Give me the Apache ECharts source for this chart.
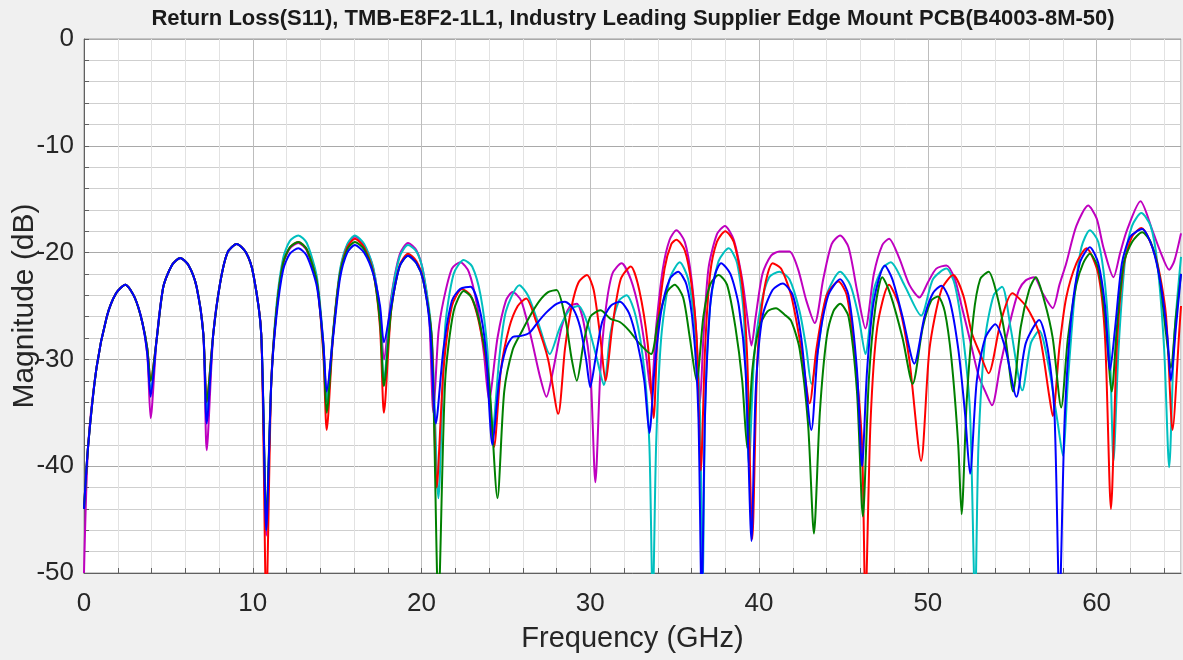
<!DOCTYPE html>
<html>
<head>
<meta charset="utf-8">
<script src="https://cdn.jsdelivr.net/npm/echarts@6/dist/echarts.min.js"></script>
<style>
html,body{margin:0;padding:0;background:#f0f0f0;}
#chart{width:1183px;height:660px;}
</style>
</head>
<body>
<div id="chart"></div>
<script>
const titleText = 'Return Loss(S11), TMB-E8F2-1L1, Industry Leading Supplier Edge Mount PCB(B4003-8M-50)';
const xAxisName = 'Frequency (GHz)';
const yAxisName = 'Magnitude (dB)';
const xTickLabels = [0, 10, 20, 30, 40, 50, 60];
const yTickLabels = [-50, -40, -30, -20, -10, 0];

const magentaData = [[0,-50],[0.25,-38],[0.75,-30.7],[1.35,-26],[1.9,-23.8],[2.45,-23],[3.0,-24.2],[3.45,-26.5],[3.75,-29.5],[3.95,-35.5],[4.3,-28.2],[4.7,-23.2],[5.2,-21.2],[5.7,-20.5],[6.2,-21.2],[6.67,-23.2],[7.07,-27.6],[7.27,-38.5],[7.66,-27.6],[8.06,-22.9],[8.5,-20],[9.05,-19.2],[9.6,-20],[10.03,-22],[10.5,-27.6],[10.8,-46.5],[11.1,-32],[11.4,-25.5],[11.8,-21],[12.2,-19.6],[12.7,-19.1],[13.2,-19.8],[13.8,-22.8],[14.18,-28.5],[14.38,-33.5],[14.77,-27.4],[15.17,-21.8],[15.6,-19.3],[16.05,-18.5],[16.6,-19.3],[17.14,-21.5],[17.54,-25.5],[17.77,-30],[18.2,-24.2],[18.7,-20.2],[19.2,-19.1],[19.7,-19.8],[20.1,-21.8],[20.45,-26],[20.7,-35],[21.0,-27.5],[21.3,-24.5],[21.8,-21.5],[22.3,-20.9],[22.8,-21.8],[23.3,-25],[23.7,-29.5],[24.0,-33.8],[24.5,-28],[25.0,-24.5],[25.4,-23.7],[25.9,-24.5],[26.5,-28],[27.0,-31.5],[27.4,-33.5],[27.8,-31],[28.3,-27],[28.8,-25],[29.2,-24.8],[29.6,-26.5],[30.0,-31],[30.3,-41.5],[30.6,-31],[30.9,-25.5],[31.3,-22],[31.85,-21],[32.4,-22.5],[32.9,-25.5],[33.3,-29.5],[33.6,-33.2],[33.9,-27],[34.3,-21.5],[34.7,-18.8],[35.1,-17.9],[35.6,-19],[36.0,-22.5],[36.3,-28],[36.5,-34.1],[36.7,-28],[37.0,-21.5],[37.5,-18.3],[37.97,-17.5],[38.5,-18.8],[39.0,-22.5],[39.3,-26],[39.55,-28.7],[39.8,-26],[40.2,-22],[40.7,-20.3],[41.2,-19.9],[41.8,-19.9],[42.3,-21.5],[42.8,-24.5],[43.3,-26.6],[43.8,-22.5],[44.3,-19.2],[44.8,-18.4],[45.3,-19.5],[45.8,-23.5],[46.3,-27.1],[46.8,-22],[47.3,-19.3],[47.7,-18.7],[48.3,-20.5],[48.9,-23],[49.5,-24.2],[50.0,-22.8],[50.5,-21.5],[51.1,-21.2],[51.6,-22.5],[52.0,-25],[52.5,-28.2],[53.0,-31.5],[53.4,-33],[53.8,-34.3],[54.3,-30.5],[54.9,-26.3],[55.4,-23.5],[55.8,-22.6],[56.3,-22.3],[56.8,-23.8],[57.4,-25.2],[57.8,-23],[58.2,-21],[58.8,-17.5],[59.5,-15.6],[60.0,-16.8],[60.4,-19.5],[61.0,-22.3],[61.4,-20],[61.8,-17.9],[62.6,-15.2],[63.3,-17.9],[63.8,-20],[64.3,-21.6],[64.6,-20.8],[65,-18.2]];

const cyanData = [[0,-44],[0.25,-38],[0.75,-30.7],[1.35,-26],[1.9,-23.8],[2.45,-23],[3.0,-24.2],[3.45,-26.5],[3.75,-29],[3.95,-33],[4.3,-28.2],[4.7,-23.2],[5.2,-21.2],[5.7,-20.5],[6.2,-21.2],[6.67,-23.2],[7.07,-27.6],[7.27,-35],[7.66,-27.6],[8.06,-22.9],[8.5,-20],[9.05,-19.2],[9.6,-20],[10.03,-22],[10.5,-27.6],[10.8,-46],[11.1,-32],[11.4,-25],[11.8,-20.5],[12.2,-18.9],[12.7,-18.4],[13.2,-19.1],[13.8,-22.3],[14.18,-28.5],[14.38,-34],[14.77,-27.2],[15.17,-21.6],[15.6,-19.2],[16.05,-18.4],[16.6,-19.2],[17.14,-21.4],[17.54,-26],[17.77,-32],[18.2,-24.5],[18.7,-20.4],[19.2,-19.3],[19.7,-19.9],[20.1,-21.8],[20.6,-27.6],[21.0,-43],[21.4,-27],[21.9,-22],[22.5,-20.7],[23.0,-21.3],[23.5,-24],[23.9,-29],[24.2,-37],[24.6,-30],[25.0,-25.5],[25.8,-23.05],[26.3,-24],[26.9,-26.5],[27.6,-29.5],[28.2,-27],[28.8,-25.3],[29.3,-25],[29.8,-26.5],[30.4,-30],[30.8,-32.4],[31.2,-27.5],[31.7,-24.5],[32.15,-24],[32.7,-26],[33.2,-31],[33.5,-38],[33.7,-53],[33.9,-38],[34.2,-28],[34.7,-22.5],[35.3,-20.9],[35.8,-22.5],[36.2,-27],[36.5,-35],[36.65,-53],[36.8,-35],[37.1,-25],[37.6,-20.8],[38.2,-19.6],[38.7,-21],[39.1,-26],[39.4,-39.9],[39.7,-30],[40.1,-25],[40.6,-22.3],[41.2,-21.8],[41.8,-22.5],[42.4,-25.5],[42.8,-29],[43.1,-32.3],[43.5,-29],[44.0,-24],[44.8,-21.8],[45.4,-23],[45.9,-26],[46.3,-29.5],[46.8,-23.5],[47.3,-21.5],[47.8,-20.9],[48.6,-23],[49.6,-25.9],[50.3,-22.5],[51.1,-21.5],[51.6,-23],[52.1,-28],[52.5,-35],[52.8,-53],[53.0,-38],[53.4,-28],[53.9,-24],[54.4,-23.2],[54.9,-27],[55.6,-32.9],[56.1,-28.5],[56.6,-27.3],[57.2,-31],[57.7,-36],[58.0,-39],[58.3,-32],[58.7,-24],[59.1,-19.5],[59.6,-17.9],[60.1,-19],[60.5,-23],[60.8,-30],[61.0,-39.5],[61.3,-29],[61.7,-20.5],[62.1,-17.5],[62.65,-16.3],[63.2,-17.5],[63.6,-21],[64.0,-29],[64.3,-40.1],[64.6,-28],[65,-20.4]];

const redData = [[0,-44],[0.25,-38],[0.75,-30.7],[1.35,-26],[1.9,-23.8],[2.45,-23],[3.0,-24.2],[3.45,-26.5],[3.75,-29],[3.95,-32],[4.3,-28.2],[4.7,-23.2],[5.2,-21.2],[5.7,-20.5],[6.2,-21.2],[6.67,-23.2],[7.07,-27.6],[7.27,-34],[7.66,-27.6],[8.06,-22.9],[8.5,-20],[9.05,-19.2],[9.6,-20],[10.03,-22],[10.5,-27.6],[10.8,-53],[11.1,-32],[11.4,-25.5],[11.8,-21],[12.2,-19.5],[12.7,-19],[13.2,-19.7],[13.8,-22.8],[14.18,-29.5],[14.38,-36.6],[14.77,-27.5],[15.17,-22],[15.6,-19.5],[16.05,-18.7],[16.6,-19.5],[17.14,-21.8],[17.54,-27],[17.77,-35],[18.2,-25.4],[18.7,-21.2],[19.2,-20.1],[19.7,-20.8],[20.1,-22.5],[20.6,-28],[20.9,-42],[21.3,-31],[21.8,-25],[22.4,-23.4],[22.9,-24],[23.4,-26.5],[23.9,-31],[24.3,-38.2],[24.7,-31],[25.2,-27],[25.7,-25],[26.2,-24.3],[26.8,-26.5],[27.5,-30],[28.1,-35.1],[28.5,-29],[28.9,-25],[29.3,-22.8],[29.8,-22.1],[30.2,-23.5],[30.6,-28],[30.9,-32],[31.3,-27],[31.8,-22.5],[32.4,-21.3],[32.9,-23.5],[33.4,-28.5],[33.75,-35.5],[34.0,-27],[34.4,-21.5],[34.8,-19.2],[35.1,-18.8],[35.6,-19.8],[36.0,-23],[36.3,-28],[36.55,-40.4],[36.8,-29],[37.1,-22],[37.5,-19],[38.0,-18],[38.5,-19],[39.0,-23],[39.3,-30],[39.6,-46.8],[39.9,-30],[40.3,-23.5],[40.8,-21],[41.3,-21.5],[41.9,-24],[42.5,-29],[43.0,-34.1],[43.4,-29],[44.0,-24],[44.7,-22.7],[45.2,-24],[45.7,-30],[46.1,-38],[46.3,-53],[46.6,-36],[47.0,-27],[47.7,-23],[48.3,-25],[48.9,-30],[49.6,-39.5],[50.1,-29],[50.8,-23.5],[51.5,-22.1],[52.1,-24],[52.6,-27.5],[53.1,-29.5],[53.6,-31.3],[54.3,-26.6],[55.0,-23.8],[55.85,-25.1],[56.6,-27.6],[57.2,-33.5],[57.4,-35.3],[57.8,-28.8],[58.2,-24.2],[58.8,-21],[59.4,-19.6],[60.1,-22],[60.5,-28],[60.85,-44],[61.2,-28.8],[61.6,-21.3],[62.1,-18.5],[62.65,-17.7],[63.5,-20.4],[64.1,-25.7],[64.5,-36.6],[64.9,-27.3],[65,-25]];

const greenData = [[0,-44],[0.25,-38],[0.75,-30.7],[1.35,-26],[1.9,-23.8],[2.45,-23],[3.0,-24.2],[3.45,-26.5],[3.75,-29],[3.95,-32],[4.3,-28.2],[4.7,-23.2],[5.2,-21.2],[5.7,-20.5],[6.2,-21.2],[6.67,-23.2],[7.07,-27.6],[7.27,-34],[7.66,-27.6],[8.06,-22.9],[8.5,-20],[9.05,-19.2],[9.6,-20],[10.03,-22],[10.5,-27.6],[10.8,-45],[11.1,-32],[11.4,-25.5],[11.8,-21],[12.2,-19.5],[12.7,-19],[13.2,-19.7],[13.8,-22.8],[14.18,-29],[14.38,-35],[14.77,-27.5],[15.17,-22],[15.6,-19.7],[16.05,-19],[16.6,-19.7],[17.14,-21.9],[17.54,-26.5],[17.77,-32.5],[18.2,-25.4],[18.7,-21.3],[19.2,-20.3],[19.7,-21],[20.1,-22.6],[20.6,-28],[21.0,-53],[21.4,-32],[21.9,-25.5],[22.5,-23.6],[23.0,-24.3],[23.5,-27],[24.0,-32],[24.5,-43],[24.9,-33],[25.4,-29.1],[25.9,-27.5],[26.4,-26],[27.0,-24.5],[27.5,-23.7],[28.0,-23.5],[28.5,-26],[28.9,-30],[29.2,-32],[29.6,-28.5],[30.0,-26],[30.6,-25.4],[31.2,-26.2],[31.75,-26.5],[32.3,-27.3],[32.9,-28.5],[33.6,-29.5],[34.0,-26.5],[34.5,-23.8],[35.0,-23],[35.5,-24.2],[35.9,-28],[36.3,-32],[36.7,-26],[37.1,-23],[37.6,-22.1],[38.1,-23],[38.6,-27],[39.0,-32],[39.3,-38.3],[39.6,-31],[40.0,-27],[40.5,-25.5],[41.0,-25.2],[41.5,-25.8],[41.9,-26.4],[42.4,-29],[42.9,-36],[43.25,-46.3],[43.6,-35],[44.0,-28],[44.4,-25.5],[44.8,-24.8],[45.3,-26],[45.8,-33],[46.15,-44.7],[46.5,-32],[46.9,-25],[47.3,-22.3],[47.8,-24],[48.5,-28],[49.1,-32.3],[49.7,-27],[50.2,-24.5],[50.6,-24.1],[51.0,-25.5],[51.4,-30],[51.8,-38],[52.0,-44.5],[52.3,-34],[52.7,-26],[53.1,-22.5],[53.6,-21.8],[54.1,-24],[54.6,-28],[55.05,-33],[55.5,-27],[56.0,-23.5],[56.4,-22.3],[56.9,-24.5],[57.4,-28],[57.9,-34.5],[58.3,-28],[58.8,-23],[59.2,-21],[59.6,-20.1],[60.1,-21.5],[60.5,-26],[60.9,-33],[61.2,-27],[61.6,-21],[62.1,-19],[62.7,-18.1],[63.2,-19],[63.7,-22],[64.1,-27.4],[64.4,-30.8],[64.7,-26],[65,-22]];

const blueData = [[0,-44],[0.25,-38],[0.75,-30.7],[1.35,-26],[1.9,-23.8],[2.45,-23],[3.0,-24.2],[3.45,-26.5],[3.75,-29.5],[3.95,-33.5],[4.3,-28.2],[4.7,-23.2],[5.2,-21.2],[5.7,-20.5],[6.2,-21.2],[6.67,-23.2],[7.07,-27.6],[7.27,-36],[7.66,-27.6],[8.06,-22.9],[8.5,-20],[9.05,-19.2],[9.6,-20],[10.03,-22],[10.5,-27.6],[10.8,-46],[11.1,-32],[11.4,-26],[11.8,-21.6],[12.2,-20.1],[12.7,-19.6],[13.2,-20.3],[13.8,-23.2],[14.18,-28.5],[14.38,-33],[14.77,-27.8],[15.17,-22.4],[15.6,-20],[16.05,-19.3],[16.6,-20],[17.14,-22],[17.54,-25],[17.77,-28.4],[18.2,-25],[18.7,-21.3],[19.2,-20.3],[19.7,-21],[20.1,-22.6],[20.5,-27],[20.85,-36],[21.3,-29],[21.8,-24.5],[22.3,-23.4],[22.9,-23.2],[23.4,-25],[23.8,-29],[24.2,-38],[24.6,-32],[25.0,-29],[25.4,-27.9],[25.9,-27.8],[26.4,-27.5],[26.9,-26.5],[27.4,-25.6],[28.0,-24.8],[28.5,-24.6],[29.0,-25.3],[29.4,-27],[29.75,-30],[30.0,-32.6],[30.3,-30],[30.7,-26.5],[31.2,-25],[31.75,-24.6],[32.3,-25.7],[32.8,-28.5],[33.2,-32],[33.5,-36.9],[33.8,-31],[34.2,-25.5],[34.7,-22.5],[35.2,-21.8],[35.7,-23],[36.1,-27],[36.4,-35],[36.6,-53],[36.8,-35],[37.1,-25],[37.4,-22],[37.75,-21],[38.3,-22],[38.8,-25],[39.2,-31],[39.55,-47],[39.8,-33],[40.2,-26],[40.8,-23.5],[41.4,-22.9],[42.0,-24],[42.5,-28],[43.1,-36.6],[43.5,-29],[44.1,-24],[44.8,-22.5],[45.3,-24],[45.8,-31],[46.1,-40],[46.4,-31],[46.8,-24.5],[47.45,-21.2],[47.9,-22.5],[48.5,-26],[49.2,-30.4],[49.8,-26],[50.3,-23.8],[50.8,-23.1],[51.3,-24.5],[51.8,-29],[52.2,-35],[52.5,-40.7],[52.9,-32],[53.4,-28],[54.0,-26.7],[54.6,-29],[55.25,-33.5],[55.8,-28.5],[56.6,-26.3],[57.1,-29],[57.5,-35],[57.8,-53],[58.1,-36],[58.5,-26],[59.0,-21],[59.6,-19.5],[60.1,-21],[60.5,-25],[60.8,-31],[61.1,-27],[61.5,-21],[62.0,-18.5],[62.7,-17.8],[63.3,-19.5],[63.8,-23],[64.2,-28],[64.4,-32],[64.7,-27],[65,-22]];

const traces = [
  {name: 'Trace 1', color: '#bf00bf', data: magentaData},
  {name: 'Trace 2', color: '#00bfbf', data: cyanData},
  {name: 'Trace 3', color: '#ff0000', data: redData},
  {name: 'Trace 4', color: '#008000', data: greenData},
  {name: 'Trace 5', color: '#0000ff', data: blueData}
];

const sans = "'Liberation Sans', Arial, sans-serif";

const chart = echarts.init(document.getElementById('chart'), null, {renderer: 'canvas'});
const majorX = '#bdbdbd', minorX = '#e2e2e2';
const majorY = '#a9a9a9', minorY = '#cfcfcf';

chart.setOption({
  backgroundColor: '#f0f0f0',
  animation: false,
  graphic: [{
    type: 'text', x: 633, y: 19,
    style: {text: titleText, fill: '#1a1a1a', font: "bold 22px " + sans, textAlign: 'center', textVerticalAlign: 'middle'}
  }],
  grid: {left: 84, top: 39, right: 2, bottom: 87, containLabel: false, outerBoundsMode: 'none',
    show: true, backgroundColor: '#ffffff', borderColor: '#9a9a9a', borderWidth: 1},
  xAxis: {
    type: 'value', min: 0, max: 65, interval: 2,
    name: xAxisName, nameLocation: 'middle', nameGap: 51, nameMoveOverlap: false,
    nameTextStyle: {fontFamily: sans, fontSize: 29, color: '#262626'},
    axisLine: {show: true, onZero: false, lineStyle: {color: '#606060', width: 1}},
    axisTick: {show: true, inside: true, length: 5, lineStyle: {color: '#606060'}},
    axisLabel: {margin: 18, fontFamily: sans, fontSize: 26, color: '#262626', showMaxLabel: false, hideOverlap: false,
      formatter: v => (xTickLabels.indexOf(v) >= 0 ? String(v) : '')},
    splitLine: {show: true, lineStyle: {color: [majorX, minorX, minorX, minorX, minorX], width: 1}}
  },
  yAxis: {
    type: 'value', min: -50, max: 0, interval: 2,
    name: yAxisName, nameLocation: 'middle', nameGap: 44, nameRotate: 90, nameMoveOverlap: false,
    nameTextStyle: {fontFamily: sans, fontSize: 30, color: '#262626'},
    axisLine: {show: true, onZero: false, lineStyle: {color: '#606060', width: 1}},
    axisTick: {show: true, inside: true, length: 5, lineStyle: {color: '#606060'}},
    axisLabel: {margin: 10, fontFamily: sans, fontSize: 26, color: '#262626', hideOverlap: false,
      formatter: v => (yTickLabels.indexOf(v) >= 0 ? String(v) : '')},
    splitLine: {show: true, lineStyle: {color: [majorY, minorY, minorY, minorY, minorY], width: 1}}
  },
  series: traces.map(t => ({
    name: t.name, type: 'line', data: t.data, showSymbol: false, symbol: 'none',
    smooth: 0.25, clip: true,
    lineStyle: {color: t.color, width: 2}, itemStyle: {color: t.color}
  }))
});
</script>
</body>
</html>
